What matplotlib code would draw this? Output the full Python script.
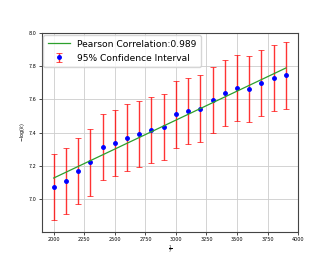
import matplotlib
matplotlib.use("Agg")
import matplotlib.pyplot as plt
import numpy as np

inv_t = [2000, 2100, 2200, 2300, 2400, 2500, 2600, 2700, 2800, 2900,
         3000, 3100, 3200, 3300, 3400, 3500, 3600, 3700, 3800, 3900]
neg_log_k = [7.07, 7.11, 7.17, 7.22, 7.315, 7.335, 7.37, 7.39, 7.415, 7.435,
             7.51, 7.53, 7.545, 7.595, 7.64, 7.67, 7.665, 7.70, 7.73, 7.745]
ci = [0.2] * len(inv_t)
pearson = 0.989

x = np.array(inv_t)
y = np.array(neg_log_k)
slope, intercept = np.polyfit(x, y, 1)

fig, ax = plt.subplots(figsize=(3.32, 2.66), dpi=100)
fig.subplots_adjust(left=0.125, right=0.898, bottom=0.128, top=0.875)

ax.plot(x, slope * x + intercept, color="#2ca02c", linewidth=0.9,
        label=f"Pearson Correlation:{pearson}", zorder=3)
ax.errorbar(x, y, yerr=ci, fmt="o", color="blue", markersize=2.5,
            ecolor=(1, 0, 0, 0.8), elinewidth=1.0, capsize=2, capthick=0.6,
            label="95% Confidence Interval", zorder=2)

ax.set_xlim(1900, 4000)
ax.set_ylim(6.8, 8.0)
ax.set_xticks([2000, 2250, 2500, 2750, 3000, 3250, 3500, 3750, 4000])
ax.set_yticks([7.0, 7.2, 7.4, 7.6, 7.8, 8.0])
ax.grid(True, color="#cccccc", linewidth=0.6)
ax.set_axisbelow(True)
ax.tick_params(labelsize=3.5, length=2, width=0.5, pad=1.5)
for s in ax.spines.values():
    s.set_linewidth(0.8)
    s.set_color("#444444")

ax.set_xlabel(r"$\frac{1}{T}$", fontsize=4, labelpad=1)
ax.set_ylabel(r"$-\log(k)$", fontsize=3.5, labelpad=1)

ax.legend(loc="upper left", fontsize=6.6, borderaxespad=0.2,
          handlelength=2.4, labelspacing=0.55, borderpad=0.5)

plt.savefig("out.png", dpi=100)
